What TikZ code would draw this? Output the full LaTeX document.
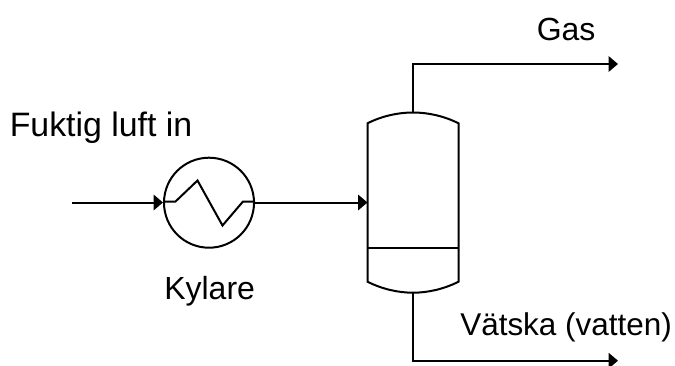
\documentclass[tikz,border=0pt]{standalone}
\usepackage{fontspec}
\setmainfont{Liberation Sans}
\usetikzlibrary{arrows.meta}
\tikzset{
  x=0.75pt,y=-0.75pt,
  pipe/.style={draw=black,line width=1.5pt,-{Triangle[length=7pt,width=11.5pt]}},
  line/.style={draw=black,line width=1.5pt},
  label/.style={inner sep=0pt,anchor=base west,text=black},
  cooler/.style={circle,draw=black,line width=1.5pt,minimum size=67.5pt,inner sep=0pt}
}
\begin{document}
\begin{tikzpicture}
\useasboundingbox (0,0) rectangle (675,365);
\node[cooler] (kyl) at (209,202.7) {};
\coordinate (in) at (72,202.5);
\coordinate (vl) at (367.5,202.5);
\coordinate (tl) at (367.5,123.3);
\coordinate (tt) at (413,112.5);
\coordinate (tr) at (458.5,123.3);
\coordinate (bl) at (367.5,281.7);
\coordinate (bb) at (413,292.7);
\coordinate (br) at (458.5,281.7);
\coordinate (dl) at (367.5,247.7);
\coordinate (dr) at (458.5,247.7);
\coordinate (gas) at (618,64);
\coordinate (liq) at (618,360.7);
% vessel
\draw[line,line join=miter] (bl) -- (tl) .. controls (382,116) and (398,112.5) .. (tt)
  .. controls (428,112.5) and (444,116) .. (tr) -- (br)
  .. controls (444,289) and (428,292.7) .. (bb)
  .. controls (398,292.7) and (382,289) .. (bl) -- cycle;
\draw[line] (dl) -- (dr);
% zigzag
\draw[line,line join=miter] (kyl.west |- 0,201.5) -- (175.5,201.5) -- (197.5,180.5) -- (222.5,225.5) -- (243,201.5) -- (kyl.east |- 0,201.5);
% connectors
\draw[pipe] (in) -- (kyl.west |- in);
\draw[pipe] (kyl.east |- vl) -- (vl);
\draw[pipe] (tt) |- (gas);
\draw[pipe] (bb) |- (liq);
% labels
\node[label,font=\fontsize{25.4pt}{29pt}\selectfont] (l1) at (9.5,136) {Fuktig luft in};
\node[label,font=\fontsize{24pt}{28pt}\selectfont] (l2) at (164,299) {Kylare};
\node[label,font=\fontsize{24pt}{28pt}\selectfont] (l3) at (536.5,40) {Gas};
\node[label,font=\fontsize{23.6pt}{28pt}\selectfont] (l4) at (460,335) {Vätska (vatten)};
\end{tikzpicture}
\end{document}
